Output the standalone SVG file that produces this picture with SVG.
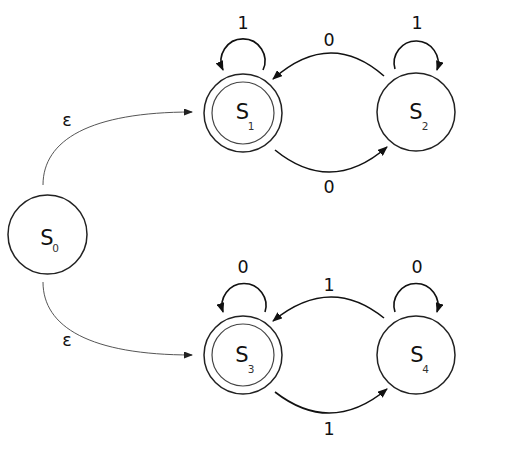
<svg xmlns="http://www.w3.org/2000/svg" width="510" height="458" viewBox="0 0 510 458">
<defs>
<marker id="ah" markerUnits="userSpaceOnUse" markerWidth="10" markerHeight="8" refX="9" refY="4" orient="auto"><path d="M0,0 L10,4 L0,8 z" fill="#111"/></marker>
<marker id="ahs" markerUnits="userSpaceOnUse" markerWidth="9" markerHeight="7" refX="8" refY="3.5" orient="auto"><path d="M0,0 L9,3.5 L0,7 z" fill="#222"/></marker>
<style>
.st{fill:none;stroke:#222;stroke-width:1.5}
.in{fill:none;stroke:#444;stroke-width:1.2}
.e{fill:none;stroke:#111;stroke-width:1.6;marker-end:url(#ah)}
.eps{fill:none;stroke:#555;stroke-width:1;marker-end:url(#ahs)}
.s{font-family:"DejaVu Sans",sans-serif;font-size:21px;fill:#111;text-anchor:middle}
.sub{font-family:"DejaVu Sans",sans-serif;font-size:10.5px;fill:#333;text-anchor:middle}
.l{font-family:"DejaVu Sans",sans-serif;font-size:17.5px;fill:#111;text-anchor:middle}
</style>
</defs>
<rect width="510" height="458" fill="#fff"/>
<g id="connectors">
<path class="eps" d="M43,185 C43,140 90,112 192,112"/>
<path class="eps" d="M43,282 C43,327 90,355 192,355"/>
<path class="e" d="M263,70 A22,22 0 1 0 223,70"/>
<path class="e" d="M395,69 A22,22 0 1 1 437,70"/>
<path class="e" d="M265,312 A22,22 0 1 0 223,312"/>
<path class="e" d="M395,312 A22,22 0 1 1 437,312"/>
<path class="e" d="M384,76 Q330,28.5 273,79"/>
<path class="e" d="M275,150 Q331,195.5 387,147"/>
<path class="e" d="M384,318 Q330,274.5 273,321"/>
<path class="e" d="M275,392 Q331,435.5 387,389"/>
<text class="l" x="67" y="126">ε</text>
<text class="l" x="67" y="346">ε</text>
<text class="l" x="243" y="29">1</text>
<text class="l" x="417" y="29">1</text>
<text class="l" x="243" y="273">0</text>
<text class="l" x="417" y="273">0</text>
<text class="l" x="329" y="46">0</text>
<text class="l" x="329" y="193">0</text>
<text class="l" x="329" y="291">1</text>
<text class="l" x="329" y="435">1</text>
</g>
<g id="S0">
<circle class="st" cx="47.5" cy="234.5" r="39.5"/>
<text class="s" x="47" y="245">S</text><text class="sub" x="55.5" y="252">0</text>
</g>
<g id="S1">
<circle class="st" cx="243" cy="113" r="39"/>
<circle class="in" cx="243" cy="113" r="31"/>
<text class="s" x="242.5" y="119">S</text><text class="sub" x="251" y="130">1</text>
</g>
<g id="S2">
<circle class="st" cx="416" cy="112" r="39"/>
<text class="s" x="416" y="119">S</text><text class="sub" x="425" y="130">2</text>
</g>
<g id="S3">
<circle class="st" cx="243" cy="355" r="39"/>
<circle class="in" cx="243" cy="355" r="31"/>
<text class="s" x="242" y="362">S</text><text class="sub" x="251" y="373">3</text>
</g>
<g id="S4">
<circle class="st" cx="416" cy="355" r="39"/>
<text class="s" x="417" y="362">S</text><text class="sub" x="425.5" y="373">4</text>
</g>
</svg>
